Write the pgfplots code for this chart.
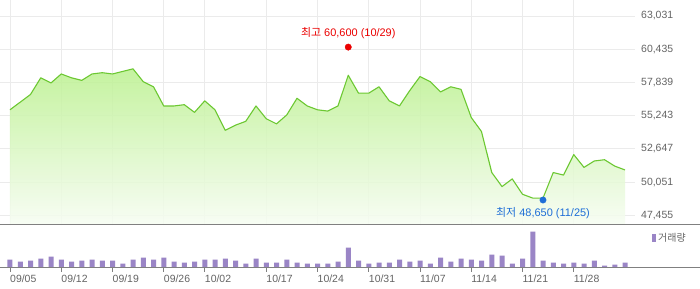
\documentclass[border=0pt]{standalone}
\usepackage{fontspec}
\usepackage{pgfplots}
\usepackage{pgfplotstable}
\pgfplotsset{compat=1.18}
\setmainfont{Liberation Sans}
\newfontfamily\kr{Noto Sans CJK KR}
\definecolor{lineg}{HTML}{6CC832}
\definecolor{filltop}{RGB}{187,241,143}
\definecolor{fillbot}{RGB}{247,253,243}
\definecolor{gridgray}{RGB}{235,235,235}
\definecolor{tickgray}{RGB}{100,100,100}
\definecolor{sepgray}{RGB}{128,128,128}
\definecolor{volpurple}{RGB}{154,133,198}
\definecolor{maxred}{RGB}{235,0,0}
\definecolor{minblue}{RGB}{30,110,215}

\pgfplotstableread{
i c v
0 55700 830
1 56300 630
2 56900 730
3 58200 930
4 57800 1130
5 58500 830
6 58200 630
7 58000 730
8 58500 830
9 58600 730
10 58500 730
11 58700 430
12 58900 830
13 57900 1030
14 57500 830
15 56000 1030
16 56000 630
17 56100 530
18 55500 630
19 56400 830
20 55700 830
21 54100 930
22 54500 730
23 54800 430
24 56000 930
25 55000 530
26 54600 530
27 55300 830
28 56600 530
29 56000 430
30 55700 430
31 55600 430
32 56000 630
33 58400 2030
34 57000 730
35 57000 430
36 57500 530
37 56400 530
38 56000 830
39 57200 630
40 58300 730
41 57900 430
42 57100 1030
43 57500 630
44 57300 930
45 55100 830
46 54000 730
47 50800 1330
48 49700 1230
49 50300 430
50 49100 930
51 48800 3630
52 48800 730
53 50800 530
54 50600 430
55 52200 530
56 51200 430
57 51700 730
58 51800 230
59 51300 330
60 51000 530
}\data

\begin{document}
\begin{tikzpicture}
\useasboundingbox[fill=white] (0bp,0bp) rectangle (700bp,289bp);
\begin{axis}[
  at={(0bp,64bp)}, anchor=south west, scale only axis,
  width=635bp, height=225bp,
  xmin=-0.9756, xmax=60.9756, ymin=46698, ymax=64281,
  scaled y ticks=false, scaled x ticks=false,
  axis line style={draw=none}, major tick style={draw=none},
  xtick={0,5,10,15,19,25,30,35,40,45,50,55}, xticklabel=\empty,
  ytick={47455,50051,52647,55243,57839,60435,63031},
  yticklabels={{47,455},{50,051},{52,647},{55,243},{57,839},{60,435},{63,031}},
  yticklabel pos=right,
  yticklabel style={anchor=west, inner sep=0pt, xshift=6bp,
    font=\fontsize{10.5}{12}\selectfont, text=tickgray},
  grid=major, major grid style={gridgray, line width=0.8bp},
]
\addplot[draw=none, top color=filltop, bottom color=fillbot, fill opacity=0.85]
  table[x=i,y=c]{\data} -- (axis cs:60,46698) -- (axis cs:0,46698) -- cycle;
\addplot[lineg, line width=1.1bp, line join=round] table[x=i,y=c]{\data};
\addplot[only marks, mark=*, mark size=3.2bp, mark options={draw=maxred, fill=maxred}] coordinates {(33,60600)};
\addplot[only marks, mark=*, mark size=3.2bp, mark options={draw=minblue, fill=minblue}] coordinates {(52,48650)};
\node[anchor=base, yshift=10.4bp, text=maxred, font=\fontsize{11}{13}\selectfont, inner sep=0pt]
  at (axis cs:33,60600) {{\kr 최고} 60,600 (10/29)};
\node[anchor=base, yshift=-16bp, text=minblue, font=\fontsize{11}{13}\selectfont, inner sep=0pt]
  at (axis cs:52,48650) {{\kr 최저} 48,650 (11/25)};
\end{axis}
\begin{axis}[
  at={(0bp,21bp)}, anchor=south west, scale only axis,
  width=635bp, height=43bp,
  xmin=-0.9756, xmax=60.9756, ymin=0, ymax=4300,
  scaled y ticks=false, scaled x ticks=false,
  axis line style={draw=none}, ytick=\empty,
  xtick={0,5,10,15,19,25,30,35,40,45,50,55},
  xticklabels={09/05,09/12,09/19,09/26,10/02,10/17,10/24,10/31,11/07,11/14,11/21,11/28},
  xtick pos=bottom, tick align=outside, major tick length=4bp,
  major tick style={sepgray, line width=0.8bp},
  xticklabel style={anchor=north west, inner sep=0pt, yshift=-3bp,
    font=\fontsize{10.5}{12}\selectfont, text=tickgray},
]
\addplot[ybar, bar width=5bp, fill=volpurple, draw=none] table[x=i,y=v]{\data};
\end{axis}
\draw[sepgray, line width=1bp] (0bp,64bp) -- (700bp,64bp);
\draw[sepgray, line width=1bp] (0bp,21bp) -- (700bp,21bp);
\fill[volpurple] (652bp,47bp) rectangle (656bp,55bp);
\node[anchor=west, inner sep=0pt, text=tickgray, font=\kr\fontsize{10}{12}\selectfont] at (658bp,51bp) {거래량};
\end{tikzpicture}
\end{document}
